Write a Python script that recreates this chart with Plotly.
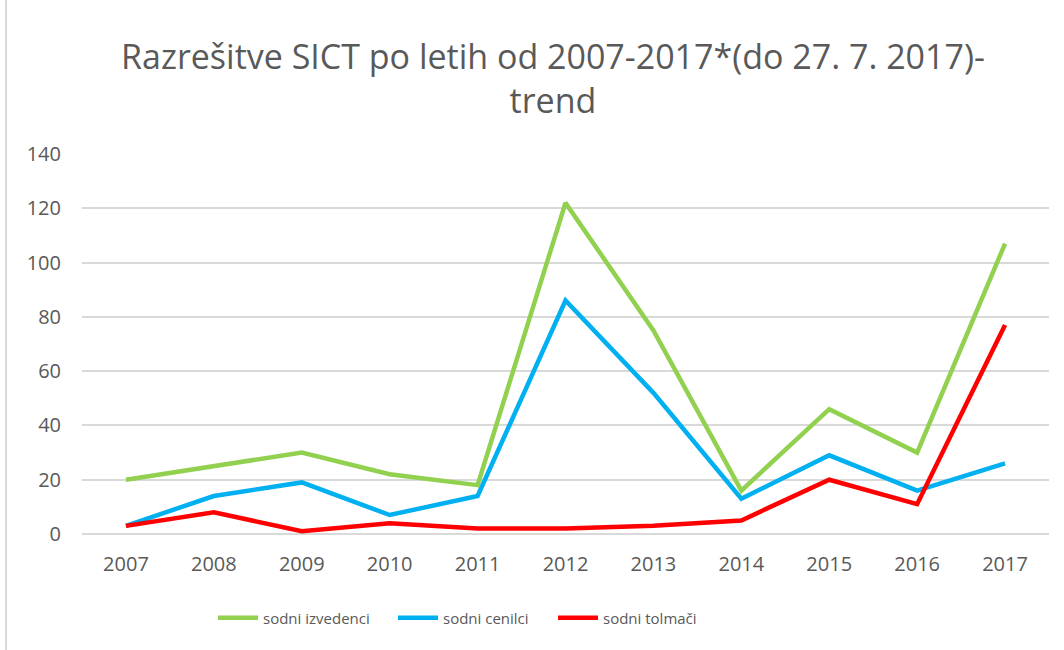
import plotly.graph_objects as go

years = ["2007", "2008", "2009", "2010", "2011", "2012", "2013", "2014", "2015", "2016", "2017"]
izvedenci = [20, 25, 30, 22, 18, 122, 75, 16, 46, 30, 107]
cenilci = [3, 14, 19, 7, 14, 86, 52, 13, 29, 16, 26]
tolmaci = [3, 8, 1, 4, 2, 2, 3, 5, 20, 11, 77]
names = ["sodni izvedenci", "sodni cenilci", "sodni tolmači"]
colors = ["#92D050", "#00B0F0", "#FF0000"]

W, H = 1064, 650
L, R, T, B = 82, 15, 154, 116
PW = W - L - R
PH = H - T - B


def px_x(v):
    return (v - L) / PW


def px_y(v):
    return (H - B - v) / PH


legend_ids = ["legend", "legend2", "legend3"]
legend_x = [213, 393, 553]

fig = go.Figure()
for name, vals, c, lid in zip(names, [izvedenci, cenilci, tolmaci], colors, legend_ids):
    fig.add_trace(go.Scatter(x=years, y=vals, mode="lines", name=name, legend=lid,
                             showlegend=True, line=dict(color=c, width=4.5)))

leg_common = dict(orientation="h", xanchor="left", yanchor="middle", y=px_y(618),
                  font=dict(size=15), itemwidth=40, bgcolor="rgba(0,0,0,0)")

fig.update_layout(
    width=W, height=H, showlegend=True,
    margin=dict(l=L, r=R, t=T, b=B, autoexpand=False),
    paper_bgcolor="white", plot_bgcolor="white",
    font=dict(family="Open Sans", color="#595959", size=16),
    title=dict(text="Razrešitve SICT po letih od 2007-2017*(do 27. 7. 2017)-<br>trend",
               x=px_x(553), xanchor="center", xref="paper", y=1 - 69 / H, yanchor="top",
               automargin=False,
               font=dict(size=34, color="#595959", family="Open Sans")),
    xaxis=dict(type="category", range=[-0.5, 10.5], showgrid=False, showline=False, ticks="",
               automargin=False, tickfont=dict(size=20), ticklabelstandoff=16),
    yaxis=dict(range=[0, 140], dtick=20, gridcolor="#d9d9d9", gridwidth=1.5,
               zeroline=True, zerolinecolor="#d9d9d9", zerolinewidth=1.5, automargin=False,
               showline=False, ticks="", tickfont=dict(size=20), ticklabelstandoff=20),
    legend=dict(x=px_x(legend_x[0]), **leg_common),
    legend2=dict(x=px_x(legend_x[1]), **leg_common),
    legend3=dict(x=px_x(legend_x[2]), **leg_common),
    shapes=[dict(type="line", xref="paper", yref="paper",
                 x0=px_x(6), x1=px_x(6), y0=px_y(H), y1=px_y(0),
                 line=dict(color="#d9d9d9", width=2))],
)
fig.write_html("out.html", config={"displayModeBar": False},
               post_script="document.body.style.margin='0';")
